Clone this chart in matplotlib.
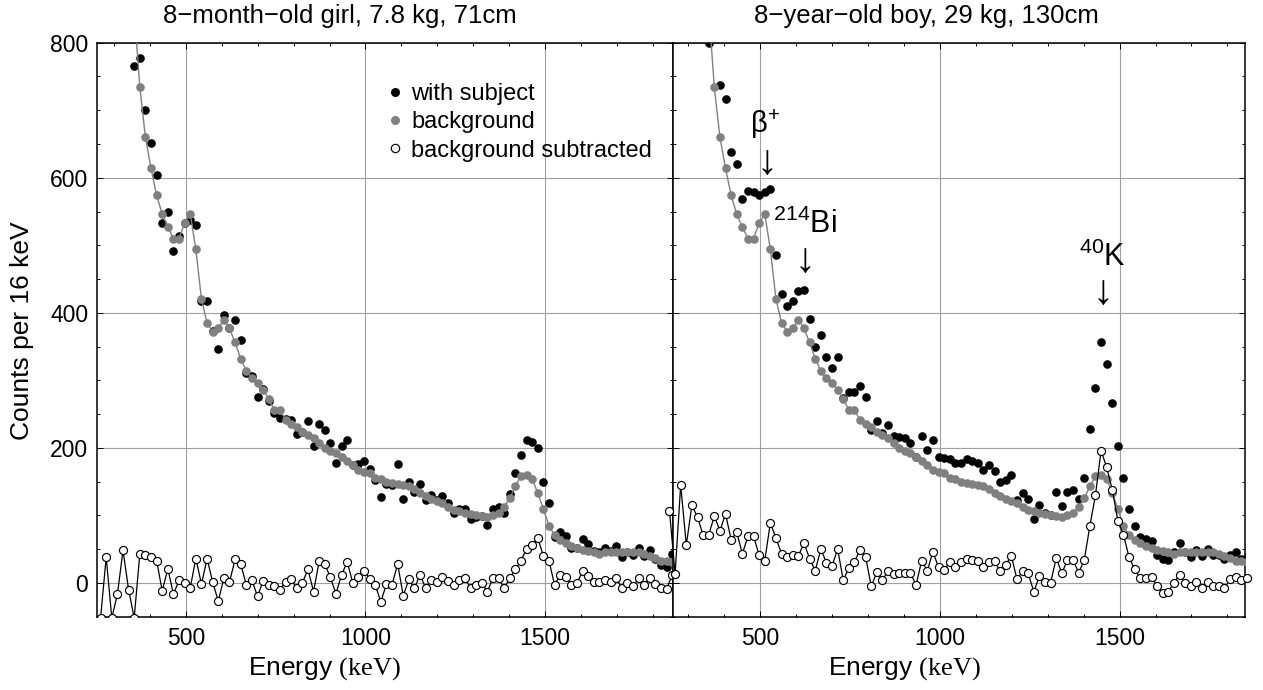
import numpy as np
import matplotlib
matplotlib.use("Agg")
from matplotlib import pyplot as plt
from matplotlib.lines import Line2D
from matplotlib.ticker import MultipleLocator

nan = np.nan

# bin centres (keV), 104 bins
energy = 247.2 + 15.6 * np.arange(104)

# background spectrum (same run shown in both panels)
background = [nan, nan, nan, nan, nan, nan, nan, 850, 734, 660,
              614, 574, 546, 527, 510, 510, 533, 546, 494, 420,
              385, 372, 377, 390, 377, 356, 332, 314, 303, 296,
              286, 272, 256, 256, 241, 236, 231, 224, 219, 214,
              207, 200, 196, 192, 187, 180, 175, 167, 164, 162,
              155, 154, 149, 148, 147, 145, 144, 139, 133, 128,
              124, 121, 118, 113, 108, 106, 103, 102, 101, 99,
              98, 101, 103, 113, 125, 143, 158, 160, 154, 133,
              110, 84, 71, 64, 59, 54, 51, 49, 47, 45,
              43, 46, 45, 46, 46, 45, 46, 45, 43, 40,
              37, 33, 32, 31]

girl_with = [nan, nan, nan, nan, nan, nan, nan, 765, 777, 701,
             652, 604, 533, 549, 492, 513, 533, 537, 530, 418,
             418, 373, 347, 396, 378, 390, 359, 311, 306, 275,
             287, 269, 252, 244, 243, 241, 221, 224, 240, 203,
             236, 227, 207, 178, 202, 212, 175, 176, 181, 168,
             152, 127, 146, 145, 176, 124, 150, 134, 146, 122,
             130, 122, 128, 118, 104, 110, 110, 94, 98, 99,
             86, 110, 112, 103, 132, 162, 190, 211, 209, 199,
             149, 118, 68, 76, 69, 51, 51, 65, 58, 47,
             45, 51, 47, 54, 39, 45, 41, 52, 40, 49,
             35, 26, 23, 43]

girl_sub = [nan, -52, 38, -52, -17, 48, -10, -52, 43, 42,
            39, 33, -12, 21, -17, 4, 0, -7, 36, -2,
            36, 1, -27, 7, 1, 35, 28, -3, 4, -20,
            3, -3, -5, -10, 2, 5, -8, 0, 20, -13,
            32, 28, 8, -16, 12, 31, 0, 9, 18, 6,
            -3, -28, -2, -3, 28, -19, 5, -8, 12, -8,
            4, 2, 9, 3, -3, 4, 7, -8, -3, 0,
            -13, 7, 7, -8, 7, 20, 33, 50, 56, 66,
            40, 33, -3, 12, 9, -3, 0, 17, 10, 2,
            2, 4, 2, 7, -8, 0, -5, 7, -3, 7,
            -2, -8, -9, 12]

boy_with = [nan, nan, nan, nan, nan, nan, nan, 800, 833, 737,
            716, 638, 620, 568, 581, 579, 574, 579, 584, 486,
            428, 410, 418, 432, 434, 391, 349, 367, 334, 318,
            334, 274, 282, 283, 291, 275, 227, 240, 222, 234,
            218, 216, 214, 207, 186, 218, 197, 212, 186, 185,
            184, 178, 178, 183, 180, 177, 167, 174, 166, 149,
            153, 160, 123, 133, 124, 94, 116, 104, 100, 135,
            114, 135, 137, 124, 155, 228, 288, 357, 324, 267,
            202, 155, 110, 84, 68, 65, 62, 42, 36, 34,
            45, 59, 46, 39, 48, 40, 50, 42, 41, 35,
            42, 45, 36, 38]

boy_sub = [107, 13, 145, 56, 115, 97, 71, 71, 99, 77,
           102, 64, 75, 43, 69, 69, 41, 33, 89, 66,
           43, 38, 42, 40, 59, 36, 18, 50, 30, 25,
           50, 4, 22, 31, 49, 38, -5, 16, 4, 18,
           13, 14, 14, 14, -3, 33, 18, 46, 23, 19,
           31, 23, 31, 36, 34, 33, 24, 31, 32, 17,
           27, 40, 5, 17, 14, -13, 10, 2, 0, 37,
           14, 34, 34, 15, 34, 84, 130, 196, 171, 138,
           92, 71, 38, 20, 7, 7, 8, -4, -15, -13,
           0, 12, 0, -4, 2, -8, 2, -4, -4, -8,
           5, 8, 4, 7]

titles = ["8\u2212month\u2212old girl, 7.8 kg, 71cm",
          "8\u2212year\u2212old boy, 29 kg, 130cm"]

plt.rcParams['font.family'] = ['Liberation Sans', 'DejaVu Sans']
plt.rcParams['mathtext.fontset'] = 'custom'
plt.rcParams['mathtext.rm'] = 'Liberation Serif'
plt.rcParams['mathtext.default'] = 'regular'

W, H = 1263, 690
fig = plt.figure(figsize=(W / 100, H / 100), dpi=100)

GRAY = '#808080'


def px_axes(x0, x1, y0, y1):
    return fig.add_axes([x0 / W, 1 - y1 / H, (x1 - x0) / W, (y1 - y0) / H])


def draw_panel(ax, with_subj, sub, xlim, sub_clip=True):
    ax.plot(energy, with_subj, 'o', color='black', ms=6.2, mec='none', zorder=3)
    ax.plot(energy, background, '-', color=GRAY, lw=1.0, marker='o', ms=6.2,
            mec='none', zorder=4)
    ax.plot(energy, sub, '-', color='black', lw=0.9, marker='o', ms=5.8,
            mfc='white', mec='black', mew=0.85, zorder=5, clip_on=sub_clip)
    ax.set_xlim(*xlim)
    ax.set_ylim(-51, 800)
    ax.set_xticks([500, 1000, 1500])
    ax.xaxis.set_minor_locator(MultipleLocator(100))
    ax.set_yticks([0, 200, 400, 600, 800])
    ax.yaxis.set_minor_locator(MultipleLocator(50))
    ax.grid(True, which='major', color='#a0a0a0', lw=0.8)
    ax.set_axisbelow(True)
    ax.tick_params(which='both', direction='in', top=True, right=True,
                   width=0.7, labelsize=16.5)
    ax.tick_params(which='major', length=4)
    ax.tick_params(which='minor', length=2.3)
    ax.tick_params(axis='x', pad=7)
    ax.tick_params(axis='y', pad=6)
    for s in ax.spines.values():
        s.set_linewidth(1.1)


ax1 = px_axes(96.7, 673, 42.7, 617.3)
draw_panel(ax1, girl_with, girl_sub, (252, 1856))

ax2 = px_axes(673, 1245, 42.7, 617.3)
draw_panel(ax2, boy_with, boy_sub, (257, 1849), sub_clip=False)
ax2.set_yticklabels([])

# legend in the left panel
handles = [
    Line2D([], [], ls='none', marker='o', color='black', ms=6.5, mec='none'),
    Line2D([], [], ls='none', marker='o', color=GRAY, ms=6.5, mec='none'),
    Line2D([], [], ls='none', marker='o', mfc='white', mec='black', mew=0.85, ms=6),
]
ax1.legend(handles, ['with subject', 'background', 'background subtracted'],
           loc='upper left', bbox_to_anchor=((389 - 96.7) / 576.3, 1 - (83 - 42.7) / 574.6),
           frameon=False, fontsize=17, handlelength=0.5, handletextpad=0.45,
           labelspacing=0.27, borderpad=0, borderaxespad=0)

# peak labels in the right panel
ax2.text(512, 667, "\u03b2$^{+}$", ha='center', va='baseline', fontsize=21)
ax2.text(518, 622, "\u2193", ha='center', va='center', fontsize=30)
ax2.text(624, 518, "$^{214}$Bi", ha='center', va='baseline', fontsize=22)
ax2.text(624, 477, "\u2193", ha='center', va='center', fontsize=30)
ax2.text(1453, 470, "$^{40}$K", ha='center', va='baseline', fontsize=22)
ax2.text(1453, 430, "\u2193", ha='center', va='center', fontsize=30)

# titles and axis labels
fig.text(340 / W, 1 - 23.3 / H, titles[0], ha='center', va='baseline', fontsize=18.5)
fig.text(926 / W, 1 - 23.3 / H, titles[1], ha='center', va='baseline', fontsize=18.5)
for xc in (325, 905):
    fig.text(xc / W, 1 - 675 / H, r"Energy $\mathrm{(keV)}$", ha='center',
             va='baseline', fontsize=19)
fig.text(22 / W, 1 - 331 / H, "Counts per 16 keV", rotation=90, ha='center',
         va='center', fontsize=19)

fig.savefig('out.png', dpi=100)
